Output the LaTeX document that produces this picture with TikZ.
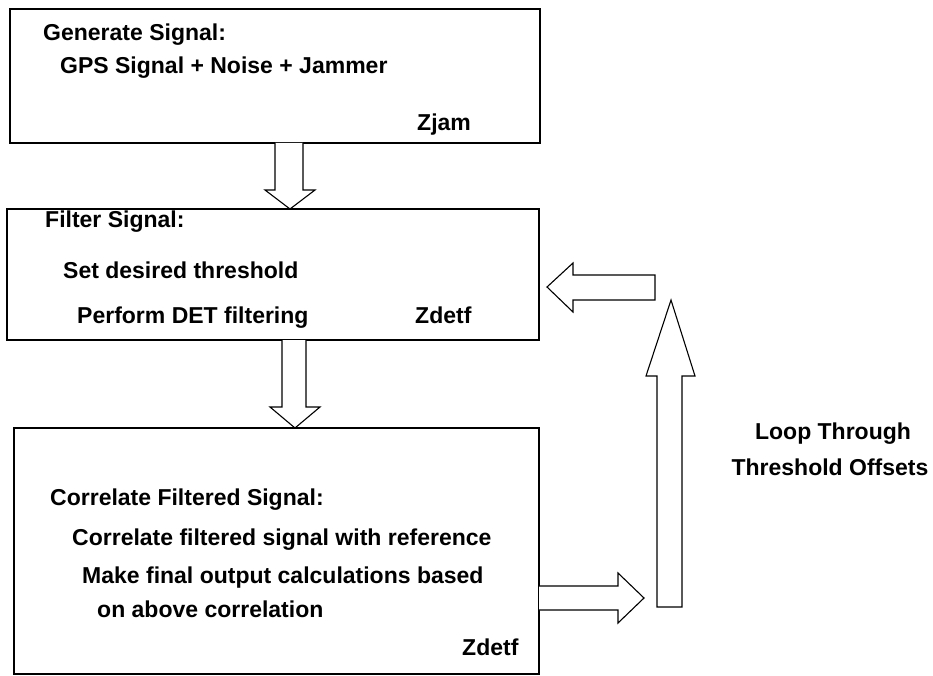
\documentclass[tikz,border=0pt]{standalone}
\usepackage{fontspec}
\setmainfont{Liberation Sans}
\begin{document}
\begin{tikzpicture}[x=1pt,y=-1pt,
  box/.style={draw,line width=1.1pt,inner sep=0pt,outer sep=0pt,anchor=north west},
  txt/.style={anchor=base west,inner sep=0pt,font=\fontsize{23}{27}\selectfont\bfseries},
  hollow/.style={draw,line width=1.1pt,line join=miter,fill=white}]
\useasboundingbox (0,0) rectangle (933,676);

% process boxes
\node[box,minimum width=530pt,minimum height=134pt] (b1) at (10,9) {};
\node[box,minimum width=532pt,minimum height=131pt] (b2) at (7,209) {};
\node[box,minimum width=525pt,minimum height=246pt] (b3) at (14,428) {};

% box texts
\node[txt] (g1) at (43,41) {Generate Signal:};
\node[txt] (g2) at (60,74) {GPS Signal + Noise + Jammer};
\node[txt] (g3) at (417,131) {Zjam};

\node[txt] (f1) at (45,227) {Filter Signal:};
\node[txt] (f2) at (63,278) {Set desired threshold};
\node[txt] (f3) at (77,323) {Perform DET filtering};
\node[txt] (f4) at (415,323) {Zdetf};

\node[txt] (c1) at (50,505) {Correlate Filtered Signal:};
\node[txt] (c2) at (72,545) {Correlate filtered signal with reference};
\node[txt] (c3) at (82,583) {Make final output calculations based};
\node[txt] (c4) at (97,617) {on above correlation};
\node[txt] (c5) at (462,655) {Zdetf};

% loop label
\node[txt,anchor=base] (l1) at (833,439) {Loop Through};
\node[txt,anchor=base] (l2) at (830,475) {Threshold Offsets};

% hollow block arrows between the boxes
\draw[hollow] (b1.south -| 275,0) -- (275,190) -- (265,190) -- (b2.north -| 290,0)
  -- (315,190) -- (303,190) -- (b1.south -| 303,0);
\draw[hollow] (b2.south -| 282,0) -- (282,407) -- (270,407) -- (b3.north -| 295,0)
  -- (320,407) -- (306,407) -- (b2.south -| 306,0);
% loop back: out of box 3, up, and into box 2
\draw[hollow] (b3.east |- 0,586) -- (618,586) -- (618,573) -- (644,598) -- (618,623)
  -- (618,610) -- (b3.east |- 0,610);
\draw[hollow] (657,607) -- (657,376) -- (646,376) -- (671,300) -- (695,376)
  -- (682,376) -- (682,607) -- cycle;
\coordinate (intip) at (547,287);
\draw[hollow] (655,275) -- (573,275) -- (573,263) -- (intip)
  -- (573,312) -- (573,300) -- (655,300) -- cycle;
\end{tikzpicture}
\end{document}
